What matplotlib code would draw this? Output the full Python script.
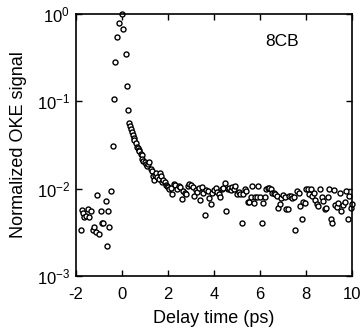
import matplotlib
matplotlib.use("Agg")
import matplotlib.pyplot as plt
from matplotlib.ticker import LogLocator, NullLocator

plt.rcParams['font.family'] = ['Liberation Sans', 'DejaVu Sans']
plt.rcParams['mathtext.fontset'] = 'custom'
plt.rcParams['mathtext.rm'] = 'Liberation Sans'
plt.rcParams['mathtext.it'] = 'Liberation Sans'
plt.rcParams['axes.unicode_minus'] = False

# delay time (ps) before and around time zero
t_rise = [-1.78, -1.74, -1.70, -1.64, -1.55, -1.45, -1.41, -1.35, -1.26, -1.20,
          -1.12, -1.09, -0.97, -0.91, -0.87, -0.80, -0.68, -0.65, -0.58, -0.54,
          -0.48, -0.36, -0.33, -0.28, -0.22, -0.10, 0.00, 0.07, 0.17, 0.23]
s_rise = [0.0034, 0.0057, 0.0052, 0.0048, 0.0049, 0.0059, 0.0048, 0.0056, 0.0034, 0.0036,
          0.0032, 0.0085, 0.0030, 0.0056, 0.0041, 0.0041, 0.0072, 0.0022, 0.0056, 0.0036,
          0.0095, 0.031, 0.107, 0.28, 0.54, 0.79, 1.0, 0.67, 0.35, 0.15]

# fast decay
t_decay = [0.29, 0.33, 0.36, 0.40, 0.44, 0.48, 0.52, 0.55, 0.60, 0.65,
           0.70, 0.73, 0.77, 0.82, 0.87, 0.90, 0.94, 1.00, 1.06, 1.10,
           1.13, 1.20, 1.25, 1.30, 1.35, 1.40, 1.45, 1.50, 1.55, 1.60,
           1.64, 1.70, 1.75, 1.81, 1.87, 1.92, 1.96]
s_decay = [0.079, 0.056, 0.052, 0.048, 0.045, 0.041, 0.038, 0.036, 0.033, 0.030,
           0.029, 0.028, 0.027, 0.025, 0.024, 0.022, 0.021, 0.020, 0.019, 0.018,
           0.019, 0.020, 0.017, 0.016, 0.014, 0.0126, 0.0145, 0.015, 0.0135, 0.0128,
           0.015, 0.0140, 0.0120, 0.0126, 0.0118, 0.0110, 0.0107]

# long-time plateau
t_flat = [2.00, 2.07, 2.13, 2.20, 2.27, 2.33, 2.40, 2.47, 2.53, 2.60,
          2.67, 2.73, 2.80, 2.87, 2.93, 3.00, 3.07, 3.13, 3.20, 3.27,
          3.33, 3.40, 3.47, 3.53, 3.60, 3.67, 3.73, 3.80, 3.87, 3.93,
          4.00, 4.07, 4.13, 4.20, 4.27, 4.33, 4.40, 4.47, 4.53, 4.60,
          4.67, 4.73, 4.80, 4.87, 4.93, 5.00, 5.07, 5.13, 5.20, 5.27,
          5.33, 5.40, 5.47, 5.53, 5.60, 5.67, 5.73, 5.80, 5.87, 5.93,
          6.00, 6.07, 6.13, 6.20, 6.27, 6.33, 6.40, 6.47, 6.53, 6.60,
          6.67, 6.73, 6.80, 6.87, 6.93, 7.00, 7.07, 7.13, 7.20, 7.27,
          7.33, 7.40, 7.47, 7.53, 7.60, 7.67, 7.73, 7.80, 7.87, 7.93,
          8.00, 8.07, 8.13, 8.20, 8.27, 8.33, 8.40, 8.47, 8.53, 8.60,
          8.67, 8.73, 8.80, 8.87, 8.93, 9.00, 9.07, 9.13, 9.20, 9.27,
          9.33, 9.40, 9.47, 9.53, 9.60, 9.67, 9.73, 9.80, 9.87, 9.93, 10.00]
s_flat = [0.0105, 0.0098, 0.0102, 0.0088, 0.0112, 0.0110, 0.0100, 0.0107, 0.0104, 0.0076,
          0.0095, 0.0090, 0.0088, 0.0108, 0.0112, 0.0110, 0.0105, 0.0082, 0.0097, 0.0092,
          0.0101, 0.0074, 0.0105, 0.0089, 0.0050, 0.0097, 0.0094, 0.0078, 0.0066, 0.0090,
          0.0096, 0.0101, 0.0092, 0.0086, 0.0080, 0.0098, 0.0103, 0.0115, 0.0055, 0.0100,
          0.0102, 0.0097, 0.0104, 0.0100, 0.0106, 0.0087, 0.0092, 0.0088, 0.0041, 0.0086,
          0.0100, 0.0094, 0.0070, 0.0071, 0.0080, 0.0106, 0.0068, 0.0081, 0.0081, 0.0106,
          0.0081, 0.0041, 0.0069, 0.0080, 0.0099, 0.0103, 0.0103, 0.0098, 0.0089, 0.0090,
          0.0088, 0.0082, 0.0060, 0.0066, 0.0078, 0.0085, 0.0081, 0.0059, 0.0059, 0.0083,
          0.0083, 0.0079, 0.0080, 0.0034, 0.0095, 0.0090, 0.0064, 0.0045, 0.0070, 0.0068,
          0.0098, 0.0098, 0.0088, 0.0100, 0.0082, 0.0090, 0.0075, 0.0066, 0.0063, 0.0100,
          0.0080, 0.0072, 0.0058, 0.0060, 0.0081, 0.0098, 0.0045, 0.0040, 0.0097, 0.0065,
          0.0061, 0.0068, 0.0090, 0.0056, 0.0065, 0.0070, 0.0094, 0.0045, 0.0082, 0.0060, 0.0066]

x_ticks = [-2, 0, 2, 4, 6, 8, 10]

fig = plt.figure(figsize=(3.62, 3.31), dpi=100)
ax = fig.add_axes([0.209, 0.166, 0.764, 0.792])

t_all = t_rise + t_decay + t_flat
s_all = s_rise + s_decay + s_flat
ax.plot(t_all, s_all, 'o', ms=3.6, mfc='white', mec='black', mew=1.0,
        linestyle='none', clip_on=False)

ax.set_yscale('log')
ax.set_xlim(-2, 10)
ax.set_ylim(1e-3, 1)
ax.set_xticks(x_ticks)
ax.set_xticklabels([str(v) for v in x_ticks])
ax.yaxis.set_major_locator(LogLocator(base=10, numticks=10))
ax.yaxis.set_minor_locator(NullLocator())
ax.tick_params(direction='in', top=True, right=True, length=4, width=1,
               labelsize=12)
ax.tick_params(axis='x', pad=8)
ax.tick_params(axis='y', pad=4)
for sp in ax.spines.values():
    sp.set_linewidth(1.2)

ax.set_xlabel("Delay time (ps)", fontsize=13, labelpad=6)
ax.set_ylabel("Normalized OKE signal", fontsize=13, labelpad=7)
ax.text(0.748, 0.894, "8CB", transform=ax.transAxes, fontsize=12.5,
        ha='center', va='center')

fig.savefig("out.png", dpi=100)
